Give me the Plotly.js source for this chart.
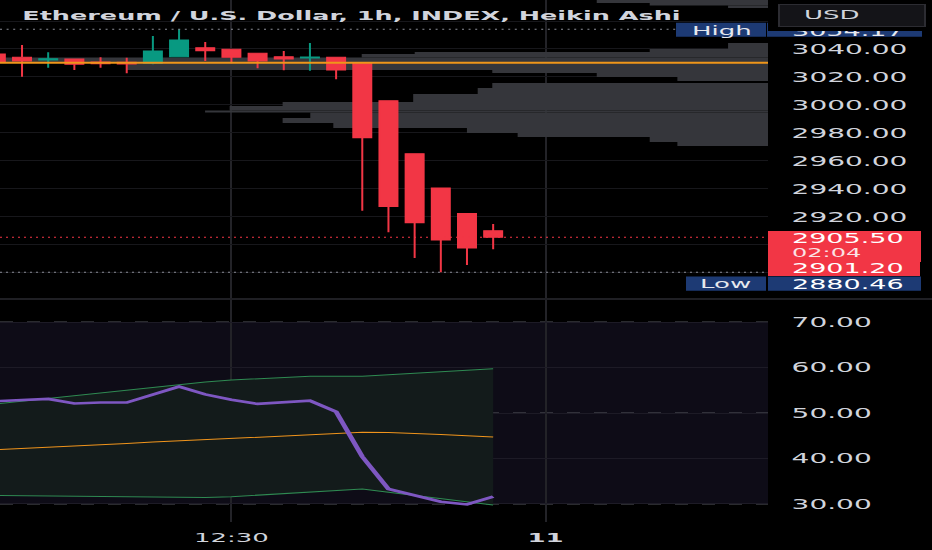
<!DOCTYPE html>
<html><head><meta charset="utf-8">
<script src="https://cdn.plot.ly/plotly-3.0.1.min.js"></script>
<style>
html,body{margin:0;padding:0;background:#000;overflow:hidden;width:932px;height:550px;}
#chart{width:466px;height:550px;transform:scaleX(2);transform-origin:0 0;}
</style></head><body><div id="chart"></div>
<script>
// ---------- DATA ----------
const chartTitle = 'Ethereum / U.S. Dollar, 1h, INDEX, Heikin Ashi';
const candleIndex = [0,1,2,3,4,5,6,7,8,9,10,11,12,13,14,15,16,17,18,19];
const haOpen  = [3036.4,3034.1,3032.1,3032.9,3030.7,3030.5,3029.8,3034.5,3040.9,3039.8,3036.9,3034.5,3033.6,3034.1,3029.8,3003.1,2965.2,2940.7,2922.4,2910.2];
const haHigh  = [3036.4,3042.9,3037.6,3032.9,3034.1,3033.8,3049.3,3054.17,3045.0,3039.8,3036.9,3038.6,3044.3,3034.1,3029.8,3003.1,2965.2,2940.7,2922.4,2915.0];
const haLow   = [3030.9,3020.2,3026.6,3025.0,3026.6,3022.6,3029.1,3034.5,3031.4,3029.8,3026.2,3024.8,3024.5,3018.3,2924.5,2909.1,2890.7,2880.46,2885.7,2896.9];
const haClose = [3030.9,3031.4,3033.1,3029.1,3029.5,3029.3,3038.6,3046.4,3038.8,3034.1,3031.4,3032.9,3034.3,3025.0,2976.6,2927.4,2915.9,2903.6,2897.9,2905.5];

const rsiValue = [52.6,52.9,53.1,52.1,52.3,52.3,54.0,55.8,54.1,52.9,52.0,52.35,52.7,50.3,40.4,33.3,31.9,30.5,29.9,31.6];
const rsiMA    = [41.96,42.2,42.5,42.76,43.0,43.3,43.6,43.85,44.1,44.4,44.65,44.9,45.2,45.5,45.75,45.7,45.55,45.3,45.0,44.73];
const bbUpper  = [52.0,52.6,53.2,53.9,54.5,55.1,55.7,56.3,56.8,57.25,57.5,57.8,58.1,58.1,58.1,58.4,58.7,59.0,59.35,59.7];
const bbLower  = [31.85,31.8,31.75,31.7,31.65,31.6,31.55,31.5,31.45,31.6,31.95,32.3,32.65,32.95,33.3,32.6,31.9,31.15,30.4,29.8];

// visible-range volume profile (price level centre, row height in price, relative volume 0-100)
const vpPrice  = [3073.9,3072.0,3070.2,3042.1,3038.9,3037.1,3035.1,3032.0,3027.5,3023.9,3021.4,3018.6,3013.9,3010.0,3005.0,3000.7,2997.7,2995.4,2992.7,2988.9,2985.4,2981.8,2978.6,2975.4,2972.1];
const vpHeight = [2.1,1.8,1.8,4.3,2.1,1.4,2.5,3.9,5.0,2.1,2.9,2.9,3.6,4.3,5.7,2.9,3.2,1.4,3.9,3.6,3.6,3.6,2.9,3.6,2.9];
const vpVolume = [22.3,15.4,5.2,5.2,15.4,46.0,52.9,100,83.5,35.9,22.3,11.8,35.9,37.8,46.2,63.2,70.1,73.3,59.6,63.2,56.6,39.2,32.6,15.4,11.8];
const pocPrice = 3030.2;

const highPrice = 3054.17;
const lowPrice = 2880.46;
const lastPrice = 2905.50;
const countdown = '02:04';
const secondPrice = 2901.20;
const currency = 'USD';

const priceTickValues = [2880,2900,2920,2940,2960,2980,3000,3020,3040,3060];
const priceTickHidden = [2880,2900,3060];
const rsiTickValues = [30,40,50,60,70];
const rsiLevels = [70,50,30];
const timeTickIndex = [9,21];
const timeTickText = ['12:30','<b>11</b>'];
const indexRange = [0.159,29.5];

// volume profile is anchored to the right edge of the price pane; full width = 100
const vpSpan = indexRange[1] - indexRange[0];
const vpLength = vpVolume.map(v => v / 100 * vpSpan);
const vpBase = vpLength.map(l => indexRange[1] - l);

// ---------- LAYOUT HELPERS (pixel positions of the 932x550 picture) ----------
const PLOT_W = 768, PLOT_H = 522;
const fx = px => px / PLOT_W;
const fy = py => (PLOT_H - py) / PLOT_H;
const FONT = 'DejaVu Sans';
const TXT = '#d1d4dc';
const RED = '#f23645', GREEN = '#089981', NAVY = '#1d3a74';

const traces = [
  {type:'bar', orientation:'h', x:vpLength, base:vpBase, y:vpPrice, width:vpHeight, xaxis:'x', yaxis:'y',
   marker:{color:'#35363b', line:{width:0}}, hoverinfo:'skip', showlegend:false},
  {type:'candlestick', x:candleIndex, open:haOpen, high:haHigh, low:haLow, close:haClose,
   xaxis:'x', yaxis:'y', whiskerwidth:0,
   increasing:{line:{color:GREEN, width:1}, fillcolor:GREEN},
   decreasing:{line:{color:RED, width:1}, fillcolor:RED},
   hoverinfo:'skip', showlegend:false},
  {type:'scatter', mode:'lines', x:indexRange, y:[pocPrice,pocPrice], xaxis:'x', yaxis:'y',
   line:{color:'#ef961a', width:2}, hoverinfo:'skip', showlegend:false},
  {type:'scatter', mode:'lines', x:candleIndex, y:bbUpper, xaxis:'x', yaxis:'y2',
   line:{color:'#2f8a52', width:1}, hoverinfo:'skip', showlegend:false},
  {type:'scatter', mode:'lines', x:candleIndex, y:bbLower, xaxis:'x', yaxis:'y2',
   line:{color:'#2f8a52', width:1}, fill:'tonexty', fillcolor:'#131b1b', hoverinfo:'skip', showlegend:false},
  {type:'scatter', mode:'lines', x:candleIndex, y:rsiMA, xaxis:'x', yaxis:'y2',
   line:{color:'#f0941c', width:1}, hoverinfo:'skip', showlegend:false},
  {type:'scatter', mode:'lines', x:candleIndex, y:rsiValue, xaxis:'x', yaxis:'y2',
   line:{color:'#7e57c2', width:2.6}, hoverinfo:'skip', showlegend:false}
];

const shapes = [
  {type:'rect', xref:'paper', yref:'y2', x0:0, x1:1, y0:30, y1:70, fillcolor:'#0e0c17', line:{width:0}, layer:'below'},
  ...rsiLevels.map(v => ({type:'line', xref:'paper', yref:'y2', x0:0, x1:1, y0:v, y1:v,
      line:{color:'#55575f', width:1, dash:'6.5px,7px'}, layer:'between'})),
  {type:'line', xref:'paper', yref:'paper', x0:0, x1:fx(932), y0:fy(299), y1:fy(299), line:{color:'#1f1f24', width:2}},
  {type:'line', xref:'paper', yref:'y', x0:0, x1:fx(677), y0:highPrice, y1:highPrice, line:{color:'#8a8d96', width:1, dash:'1px,2.3px'}},
  {type:'line', xref:'paper', yref:'y', x0:0, x1:1, y0:lastPrice, y1:lastPrice, line:{color:RED, width:1, dash:'1px,2px'}},
  {type:'line', xref:'paper', yref:'y', x0:0, x1:1, y0:lowPrice, y1:lowPrice, line:{color:'#8a8d96', width:1, dash:'1px,2px'}},
  // label boxes
  {type:'rect', xref:'paper', yref:'paper', x0:fx(676), x1:fx(766), y0:fy(36.7), y1:fy(22.7), fillcolor:NAVY, line:{width:0}},
  {type:'rect', xref:'paper', yref:'paper', x0:fx(767), x1:fx(922), y0:fy(36.7), y1:fy(22.7), fillcolor:NAVY, line:{width:0}},
  {type:'rect', xref:'paper', yref:'paper', x0:fx(768), x1:fx(921), y0:fy(262), y1:fy(231), fillcolor:RED, line:{width:0}},
  {type:'rect', xref:'paper', yref:'paper', x0:fx(768), x1:fx(920), y0:fy(276), y1:fy(262), fillcolor:RED, line:{width:0}},
  {type:'rect', xref:'paper', yref:'paper', x0:fx(686), x1:fx(766), y0:fy(290.7), y1:fy(276.5), fillcolor:NAVY, line:{width:0}},
  {type:'rect', xref:'paper', yref:'paper', x0:fx(768), x1:fx(921), y0:fy(290.7), y1:fy(276.5), fillcolor:NAVY, line:{width:0}}
];

function ann(text, px, py, anchor, size, color, extra) {
  return Object.assign({xref:'paper', yref:'paper', x:fx(px), y:fy(py), xanchor:anchor, yanchor:'middle',
    text:text, showarrow:false, borderpad:0, font:{family:FONT, size:size, color:color}}, extra || {});
}

const annotations = [
  ann('<b>' + chartTitle + '</b>', 20, 15.5, 'left', 12.75, TXT),
  ann('High', 721, 30, 'center', 13, '#e6e8ee'),
  ann(highPrice.toFixed(2), 790, 30.5, 'left', 13.5, '#e6e8ee'),
  // black area behind the currency button hides the top of the high price label
  {xref:'paper', yref:'paper', x:fx(768), y:1, xanchor:'left', yanchor:'top', text:' ', showarrow:false,
   width:83, height:30.5, bgcolor:'#000', borderpad:0, borderwidth:0, font:{size:1}},
  {xref:'paper', yref:'paper', x:fx(777), y:fy(4), xanchor:'left', yanchor:'top', text:' ', showarrow:false,
   width:72, height:21, bgcolor:'#141418', bordercolor:'#2c2c32', borderwidth:1, borderpad:0, font:{size:1}},
  ann(currency, 832, 14.6, 'center', 13, TXT),
  ann(lastPrice.toFixed(2), 790, 238, 'left', 13.5, '#ffffff'),
  ann(countdown, 790, 252.5, 'left', 12, '#fbe3e5'),
  ann(secondPrice.toFixed(2), 790, 267.5, 'left', 13.5, '#ffffff'),
  ann('Low', 726, 283.5, 'center', 13, '#e6e8ee'),
  ann(lowPrice.toFixed(2), 790, 283.5, 'left', 13.5, '#ffffff')
];

const tickFont = {family:FONT, size:14, color:TXT};
const layout = {
  width:466, height:550,
  margin:{l:0, r:82, t:0, b:28, pad:0},
  paper_bgcolor:'#000', plot_bgcolor:'#000',
  font:{family:FONT, color:TXT},
  showlegend:false,
  boxgap:0.3, boxgroupgap:0.018,
  xaxis:{domain:[0,1], range:indexRange, anchor:'y2', tickvals:timeTickIndex, ticktext:timeTickText,
    showgrid:true, gridcolor:'#232328', gridwidth:1, zeroline:false, showline:false,
    ticks:'outside', ticklen:3, tickcolor:'rgba(0,0,0,0)', tickfont:{family:FONT, size:13, color:TXT},
    rangeslider:{visible:false}, fixedrange:true},
  yaxis:{domain:[1-298/PLOT_H,1], range:[2862.1,3075], side:'right', anchor:'x',
    tickvals:priceTickValues,
    ticktext:priceTickValues.map(v => priceTickHidden.includes(v) ? '' : v.toFixed(2)),
    showgrid:true, gridcolor:'#17171b', zeroline:false, showline:false,
    ticks:'outside', ticklen:8, tickcolor:'rgba(0,0,0,0)', tickfont:tickFont, fixedrange:true},
  yaxis2:{domain:[0,1-300/PLOT_H], range:[26.04,74.84], side:'right', anchor:'x',
    tickvals:rsiTickValues, ticktext:rsiTickValues.map(v => v.toFixed(2)),
    showgrid:true, gridcolor:'#1d1b26', zeroline:false, showline:false,
    ticks:'outside', ticklen:8, tickcolor:'rgba(0,0,0,0)', tickfont:tickFont, fixedrange:true},
  shapes:shapes,
  annotations:annotations
};

Plotly.newPlot('chart', traces, layout, {displayModeBar:false, staticPlot:true});
</script>
</body></html>
